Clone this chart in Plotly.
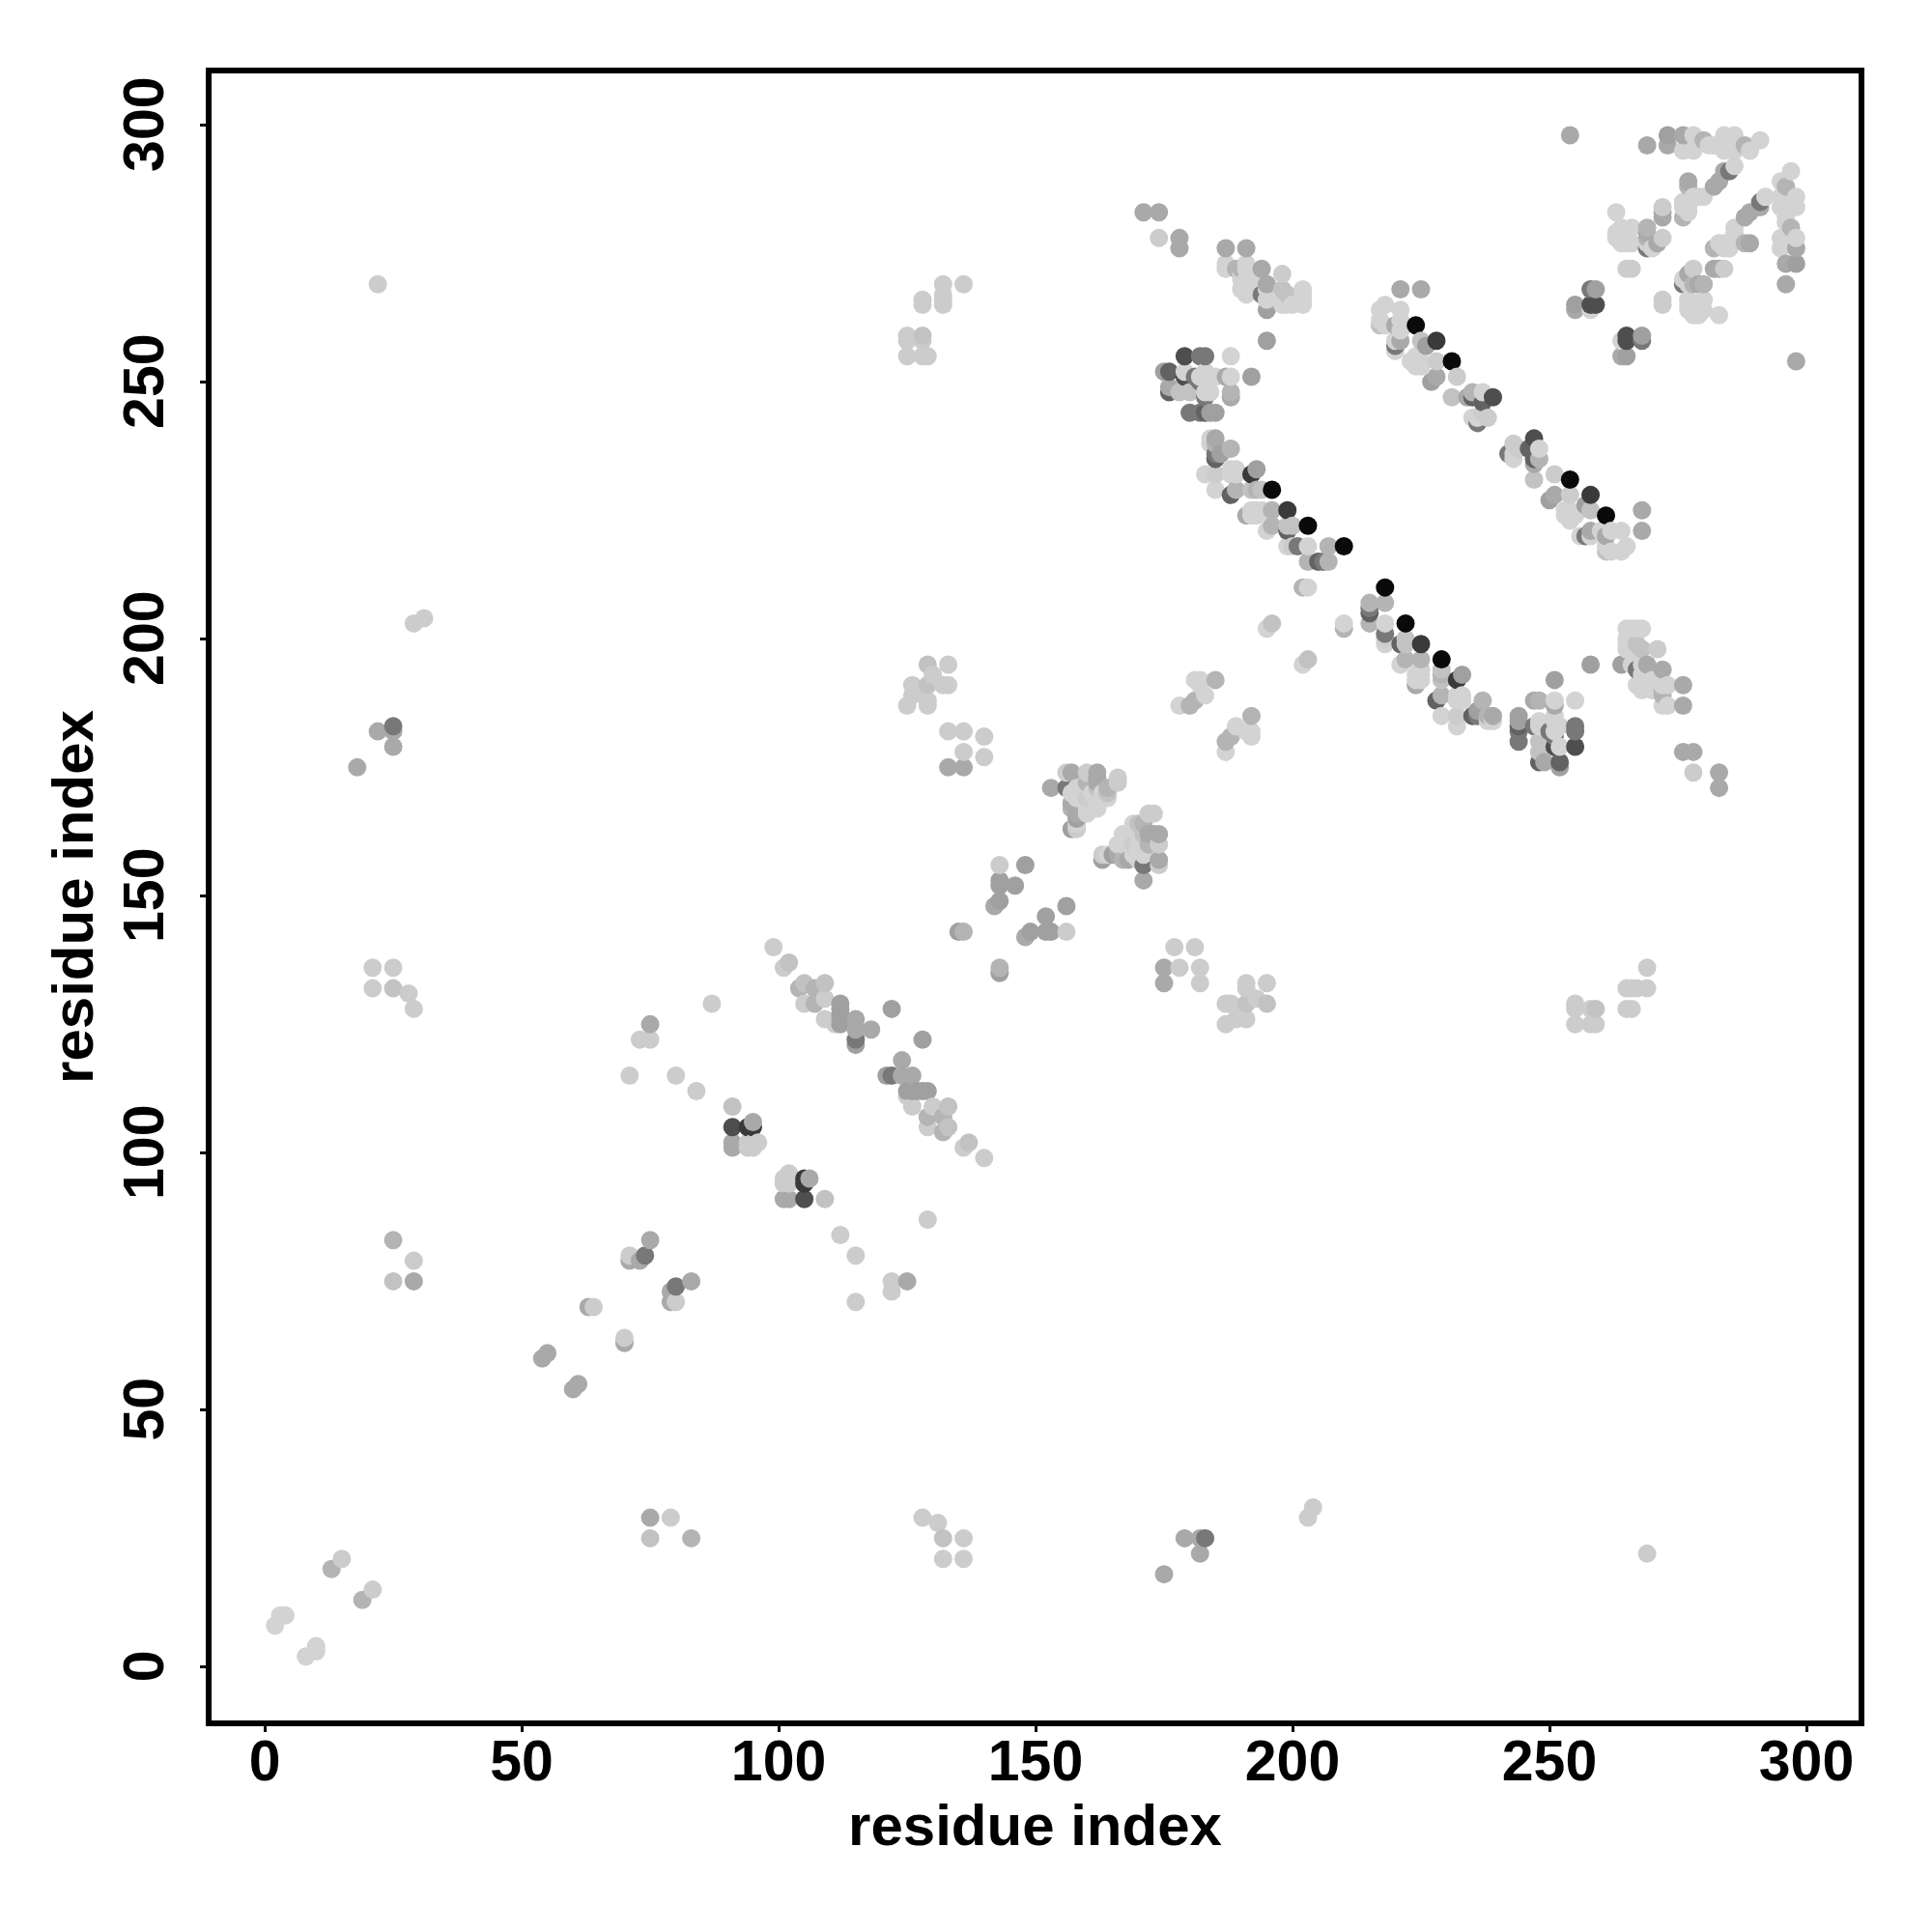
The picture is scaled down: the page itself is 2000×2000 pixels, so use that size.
import plotly.graph_objects as go

# Contact map: values for the upper triangle (y > x), grouped by grey level.
# The map is symmetric, so each contact also appears as (y, x).
tick_values = [0, 50, 100, 150, 200, 250, 300]
tick_labels = ["0", "50", "100", "150", "200", "250", "300"]
axis_label = "residue index"

level_0a = [(196,229),(203,222),(210,218),(224,261),(231,254)]
level_38 = [(199,225),(192,232),(228,258),(94,105),(95,105)]
level_48 = [(179,251),(179,255),(239,247),(258,265),(259,265),(91,105)]
level_60 = [(176,252),(176,248),(183,244),(185,235),(199,221),(205,215),(237,246),(235,247),(188,228)]
level_70 = [(182,255),(183,255),(181,251),(180,244),(182,244),(183,247),(182,250),(185,236),(201,218),(206,215),
            (220,257),(236,242),(258,268),(269,276),(285,291),(25,183),(74,80),(115,122),(156,171),(194,267)]
level_a0 = [(175,252),(184,244),(185,244),(192,251),(186,236),(193,233),(195,264),(195,258),(227,250),(226,257),
            (255,265),(259,268),(273,298),(143,152),(143,153),(146,152),(148,156),(135,143),(143,149),(122,128),(112,129),
            (112,128),(112,127),(112,126),(112,125),(115,121),(157,163),(158,165)]
level_a8 = [(171,283),(174,283),(178,278),(178,276),(187,276),(191,276),(194,272),(187,251),(188,247),(176,249),
            (185,239),(191,224),(221,268),(225,268),(221,258),(234,247),(228,251),(220,261),(254,298),(269,296),(273,296),
            (255,264),(276,298),(282,288),(283,289),(284,291),(277,289),(272,282),(269,279),(271,277),(272,283),(142,148),
            (115,126),(115,124),(118,124),(91,102),(91,101),(95,106),(75,125),(75,83),(73,79),(71,79),(63,70),(54,60),(55,61),
            (18,175),(22,182),(25,179),(25,182),(29,75),(133,175),(136,175),(195,269),
            (153,171),(157,174),(162,174),(162,173),(157,168),(158,166),(162,172)]
level_b0 = [(185,238),(188,237),(189,272),(190,272),(188,248),(189,229),(196,225),(196,222),(207,218),(203,215),(207,215),(202,210),
            (193,229),(235,248),(280,297),(288,296),(276,282),(277,288),(269,280),(269,278),(136,143),
            (104,132),(107,132),(107,129),(125,75),(25,83),(13,19),(180,187),(181,188),(185,192),(160,172),(164,171),(157,167)]
level_c0 = [(180,248),(178,248),(198,268),(199,267),(217,261),(225,258),(231,247),(192,229),(194,229),(199,222),(200,222),(196,203),
            (102,137),(105,133),(109,133),(91,109),(129,191),(129,195),(128,259),(25,132),(25,75),(162,171),(164,170)]
level_cc = [(174,278),(143,156),(198,271),(185,232),(228,254),(232,251),(237,244),(238,243),(251,232),(265,272),(266,272),
            (272,284),(272,278),(99,140),(101,136),(105,129),(109,130),(109,126),(111,125),(87,129),
            (73,122),(75,122),(71,115),(80,115),(84,112),(71,80),(64,70),(15,21),(29,79),(22,269),(29,203),(31,204),(21,136),
            (21,132),(25,136),(28,131),(29,128),(125,187),(126,189),(126,191),(129,187),(129,188),(128,190),(130,193),
            (132,191),(133,191),(133,195),(133,182),(136,182),(140,181),(140,177),(136,178),(125,255),(128,255),(129,255),
            (125,259),(128,258),(125,258),(128,265),(128,266),(132,265),(132,267),(132,266),(132,269),(136,269),(200,218),
            (160,174),(156,174),(166,173),(166,172),(158,163),(160,169),(94,101),(95,101),(96,102),(94,102),(95,102)]
level_d0 = [(187,272),(187,273),(191,272),(191,273),(190,268),(191,268),(192,269),(195,268),(202,268),(202,265),(198,265),
            (190,270),(191,270),(192,270),(192,268),(191,267),(193,268),(190,271),(198,266),(199,265),(200,265),(202,266),(202,267),
            (195,266),(179,252),(182,251),(185,251),(188,251),(184,248),(183,248),(188,255),(184,239),(184,238),(183,232),(189,232),
            (189,233),(188,232),(188,233),(185,229),(192,225),(193,225),(194,225),(193,224),(192,224),(195,221),(199,218),(203,218),
            (217,264),(217,262),(218,265),(221,264),(221,262),(218,261),(220,258),(224,254),(225,254),(224,253),(223,254),(224,255),
            (225,253),(220,256),(221,260),(237,248),(235,243),(236,243),(183,252),(184,251),(258,264),(278,298),(276,295),(278,295),
            (284,298),(286,298),(284,296),(286,295),(291,297),(289,295),(286,292),(278,286),(280,286),(276,285),(276,284),(277,284),
            (263,283),(263,279),(263,278),(264,280),(264,277),(265,279),(266,280),(266,277),(265,277),(269,277),(178,187),
            (183,189),(182,191),(181,192),(182,192),(195,202),(203,210),(157,170),(160,167),(160,166),(162,167),(2,8),(3,10),(4,10),
            (270,276),(279,286),(281,296),(282,296),(284,295),(283,296),(277,283),(158,169),(158,171),(162,168),(164,169),(158,164),
            (161,170),(159,170),(163,170)]

groups = [("#0a0a0a", level_0a), ("#3a3a3a", level_38), ("#4e4e4e", level_48), ("#626262", level_60),
          ("#787878", level_70), ("#a0a0a0", level_a0), ("#a9a9a9", level_a8), ("#b4b4b4", level_b0),
          ("#c2c2c2", level_c0), ("#cccccc", level_cc), ("#d3d3d3", level_d0)]

points = {}
for colour, pts in groups:
    for px, py in pts:
        points.setdefault((px, py), colour)
        points.setdefault((py, px), colour)
ordered = sorted(points)

fig = go.Figure(go.Scatter(
    x=[p[0] for p in ordered], y=[p[1] for p in ordered], mode="markers",
    marker=dict(size=19, color=[points[p] for p in ordered], line=dict(width=0)),
    hoverinfo="skip"))

tick_font = dict(family="Liberation Sans", size=59, color="black", weight=700)
title_font = dict(family="Liberation Sans", size=60, color="black", weight=700)
axis = dict(tickmode="array", tickvals=tick_values, showgrid=False, zeroline=False,
            showline=True, mirror=True, linecolor="black", linewidth=6, ticks="outside", ticklen=6,
            tickwidth=3, tickcolor="black", tickfont=tick_font)
fig.update_layout(
    width=2000, height=2000, plot_bgcolor="white", paper_bgcolor="white", showlegend=False,
    margin=dict(l=211, r=84, t=68, b=227, autoexpand=False),
    xaxis=dict(axis, range=[-10.35, 310.15], ticktext=tick_labels, ticklabelstandoff=-21,
               title=dict(text=axis_label, font=title_font, standoff=10)),
    yaxis=dict(axis, range=[-10.45, 310.02], tickangle=-90, ticklabelstandoff=14,
               ticktext=[t + "\u00a0" for t in tick_labels],
               title=dict(text=axis_label, font=title_font, standoff=2)),
)
fig.write_html("out.html")
